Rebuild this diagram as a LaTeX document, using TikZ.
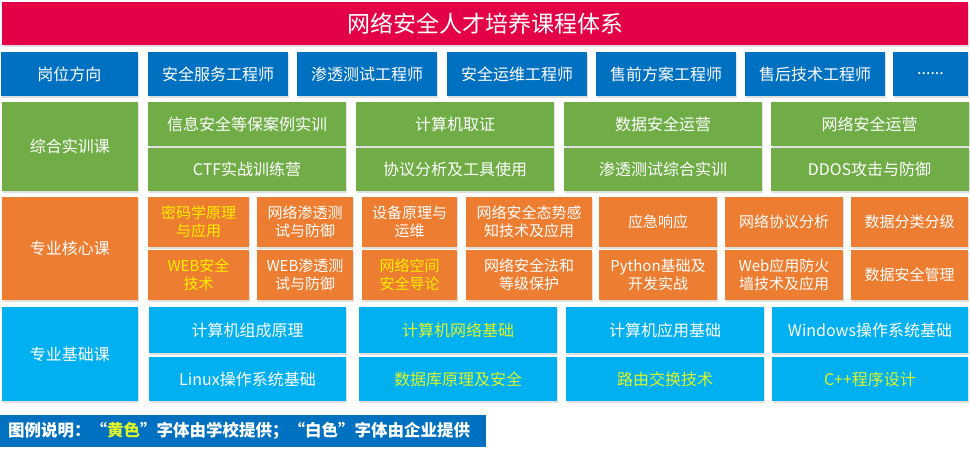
\documentclass[tikz,border=0pt]{standalone}
\usepackage{fontspec}
\setmainfont{Noto Sans CJK SC}
\usetikzlibrary{shadows}
\definecolor{titlered}{RGB}{228,0,70}
\definecolor{postblue}{RGB}{0,112,192}
\definecolor{pracgreen}{RGB}{112,173,71}
\definecolor{coreorange}{RGB}{237,125,49}
\definecolor{basecyan}{RGB}{0,176,240}
\definecolor{schoolylw}{RGB}{255,240,0}
\definecolor{schoolylwb}{RGB}{222,245,40}

\begin{document}
\begin{tikzpicture}[x=1pt, y=-1pt,
  box/.style    = {rectangle, inner sep=2pt, align=center, text=white,
                   font=\fontsize{16}{19}\selectfont,
                   drop shadow={shadow xshift=1pt, shadow yshift=-1.5pt,
                                opacity=0.25}},
  postbox/.style = {box, fill=postblue, minimum height=44pt},
  pracbox/.style = {box, fill=pracgreen},
  corebox/.style = {box, fill=coreorange, font=\fontsize{15}{18}\selectfont},
  basebox/.style = {box, fill=basecyan},
  rowlabel/.style = {minimum width=136pt}
]
\useasboundingbox (0,0) rectangle (970,450);

% title bar
\node[box, fill=titlered, minimum width=966pt, minimum height=43pt,
      font=\fontsize{23}{26}\selectfont] (title) at (485,23.5)
      {网络安全人才培养课程体系};

% job directions
\node[postbox, minimum width=137pt] (post-0) at (69.5,74) {岗位方向};
\foreach \cx/\txt [count=\i] in {218/安全服务工程师, 367/渗透测试工程师,
    517/安全运维工程师, 666/售前方案工程师, 815/售后技术工程师}
  \node[postbox, minimum width=140pt] (post-\i) at (\cx,74) {\txt};
\node[postbox, minimum width=75pt] (post-6) at (930.5,74) {......};

% practical courses
\node[pracbox, rowlabel, minimum height=89pt] (prac-0) at (70,146.5) {综合实训课};
\foreach \cx/\ta/\tb [count=\i] in {247/信息安全等保案例实训/CTF实战训练营,
    455/计算机取证/协议分析及工具使用, 663/数据安全运营/渗透测试综合实训,
    869.5/网络安全运营/DDOS攻击与防御}{
  \node[pracbox, minimum width=198pt, minimum height=44pt] (prac-\i a) at (\cx,124) {\ta};
  \node[pracbox, minimum width=198pt, minimum height=43pt] (prac-\i b) at (\cx,169.5) {\tb};
}

% core courses
\node[corebox, rowlabel, minimum height=103pt,
      font=\fontsize{16}{19}\selectfont] (core-0) at (70,248.5) {专业核心课};
\foreach \cx/\w/\ca/\ta/\cb/\tb [count=\i] in {
    198.5/101/schoolylw/{密码学原理\\与应用}/schoolylw/{WEB安全\\技术},
    305/96/white/{网络渗透测\\试与防御}/white/{WEB渗透测\\试与防御},
    409.5/95/white/{设备原理与\\运维}/schoolylw/{网络空间\\安全导论},
    529/126/white/{网络安全态势感\\知技术及应用}/white/{网络安全法和\\等级保护},
    658/118/white/{应急响应}/white/{Python基础及\\开发实战},
    784/118/white/{网络协议分析}/white/{Web应用防火\\墙技术及应用},
    909.5/117/white/{数据分类分级}/white/{数据安全管理}}{
  \node[corebox, minimum width=\w pt, minimum height=50pt, text=\ca] (core-\i a) at (\cx,222) {\ta};
  \node[corebox, minimum width=\w pt, minimum height=50pt, text=\cb] (core-\i b) at (\cx,275) {\tb};
}

% basic courses
\node[basebox, rowlabel, minimum height=94pt] (base-0) at (70,354) {专业基础课};
\foreach \cx/\w/\ca/\ta/\cb/\tb [count=\i] in {
    247.5/197/white/计算机组成原理/white/Linux操作系统基础,
    458/198/schoolylwb/计算机网络基础/schoolylwb/数据库原理及安全,
    665/198/white/计算机应用基础/schoolylwb/路由交换技术,
    870/196/white/Windows操作系统基础/schoolylwb/C++程序设计}{
  \node[basebox, minimum width=\w pt, minimum height=46pt, text=\ca] (base-\i a) at (\cx,330) {\ta};
  \node[basebox, minimum width=\w pt, minimum height=44pt, text=\cb] (base-\i b) at (\cx,379) {\tb};
}

% legend
\node[fill=postblue, text=white, anchor=west, minimum height=32pt,
      text width=470pt, inner xsep=8pt, align=left,
      font=\fontsize{16.5}{19}\selectfont\bfseries] (legend) at (0,431)
      {图例说明：“{\color{schoolylwb}黄色}”字体由学校提供；“白色”字体由企业提供};
\end{tikzpicture}
\end{document}
